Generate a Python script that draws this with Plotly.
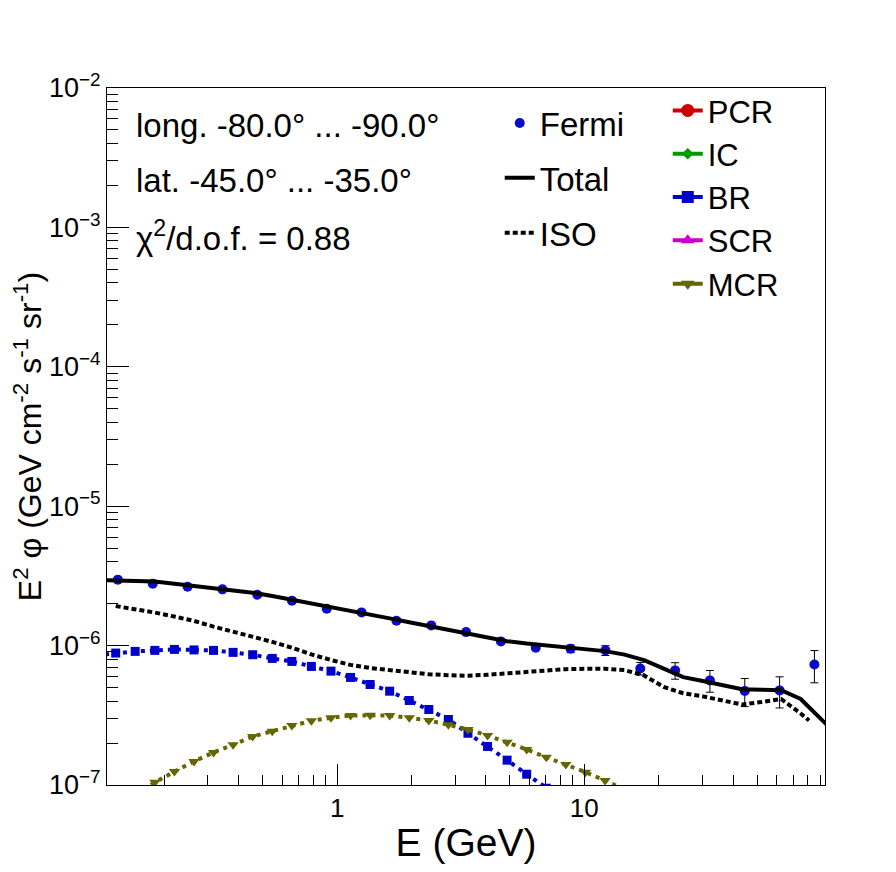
import plotly.graph_objects as go

# ---------------- data ----------------
fermi_E = [0.1297, 0.1795, 0.2483, 0.3436, 0.4753, 0.6568, 0.9078, 1.256, 1.738, 2.404,
           3.325, 4.600, 6.364, 8.806, 12.18, 16.85, 23.31, 32.24, 44.60, 61.70, 85.35]
fermi_flux = [2.972e-6, 2.782e-6, 2.647e-6, 2.532e-6, 2.319e-6, 2.101e-6, 1.840e-6, 1.731e-6,
              1.509e-6, 1.396e-6, 1.250e-6, 1.072e-6, 0.966e-6, 0.950e-6, 0.924e-6, 0.686e-6,
              0.664e-6, 0.563e-6, 0.473e-6, 0.477e-6, 0.731e-6]
fermi_err = [0.030e-6, 0.028e-6, 0.026e-6, 0.025e-6, 0.023e-6, 0.021e-6, 0.019e-6, 0.018e-6,
             0.017e-6, 0.017e-6, 0.017e-6, 0.018e-6, 0.025e-6, 0.060e-6, 0.075e-6, 0.071e-6,
             0.090e-6, 0.100e-6, 0.108e-6, 0.120e-6, 0.190e-6]

model_E = [0.1059, 0.1271, 0.1524, 0.1831, 0.2197, 0.2636, 0.3162, 0.3795, 0.4555, 0.5466,
           0.6559, 0.7870, 0.9446, 1.1335, 1.360, 1.632, 1.959, 2.350, 2.820, 3.384,
           4.061, 4.873, 5.848, 7.018, 8.421, 10.11, 12.13, 14.55, 17.46, 20.96,
           25.15, 30.18, 36.21, 43.45, 52.14, 62.57, 75.09, 90.11, 108.1]

total_flux = [2.962e-6, 2.938e-6, 2.914e-6, 2.880e-6, 2.773e-6, 2.679e-6, 2.600e-6, 2.503e-6,
              2.398e-6, 2.266e-6, 2.136e-6, 2.002e-6, 1.880e-6, 1.772e-6, 1.669e-6, 1.568e-6,
              1.472e-6, 1.385e-6, 1.300e-6, 1.222e-6, 1.141e-6, 1.075e-6, 1.034e-6, 1.002e-6,
              0.975e-6, 0.947e-6, 0.913e-6, 0.862e-6, 0.787e-6, 0.684e-6, 0.594e-6, 0.558e-6,
              0.522e-6, 0.486e-6, 0.482e-6, 0.478e-6, 0.414e-6, 0.304e-6, 0.219e-6]

iso_E = model_E[1:37] + [81.2]
iso_flux = [1.921e-6, 1.828e-6, 1.725e-6, 1.615e-6, 1.504e-6, 1.369e-6, 1.260e-6, 1.168e-6,
            1.063e-6, 0.966e-6, 0.865e-6, 0.788e-6, 0.727e-6, 0.691e-6, 0.664e-6, 0.642e-6,
            0.623e-6, 0.613e-6, 0.608e-6, 0.618e-6, 0.634e-6, 0.650e-6, 0.668e-6, 0.678e-6,
            0.682e-6, 0.682e-6, 0.667e-6, 0.611e-6, 0.505e-6, 0.455e-6, 0.432e-6, 0.401e-6,
            0.378e-6, 0.394e-6, 0.414e-6, 0.326e-6, 0.290e-6]

br_E = model_E[0:25]
br_flux = [0.850e-6, 0.884e-6, 0.909e-6, 0.924e-6, 0.939e-6, 0.931e-6, 0.924e-6, 0.894e-6,
           0.860e-6, 0.809e-6, 0.770e-6, 0.709e-6, 0.656e-6, 0.591e-6, 0.526e-6, 0.471e-6,
           0.404e-6, 0.348e-6, 0.295e-6, 0.235e-6, 0.189e-6, 0.1507e-6, 0.1195e-6, 0.0948e-6,
           0.0761e-6]

mcr_E = model_E[2:28]
mcr_flux = [0.0869e-6, 0.1047e-6, 0.1250e-6, 0.1475e-6, 0.1712e-6, 0.1943e-6, 0.2229e-6,
            0.2433e-6, 0.2674e-6, 0.2889e-6, 0.3036e-6, 0.3154e-6, 0.3160e-6, 0.3150e-6,
            0.3036e-6, 0.2904e-6, 0.2705e-6, 0.2503e-6, 0.2266e-6, 0.2029e-6, 0.1798e-6,
            0.1583e-6, 0.1403e-6, 0.1236e-6, 0.1077e-6, 0.0928e-6]

y_tickvals = [1e-7, 1e-6, 1e-5, 1e-4, 1e-3, 1e-2]
y_ticktext = ["10<sup>−7</sup>", "10<sup>−6</sup>", "10<sup>−5</sup>",
              "10<sup>−4</sup>", "10<sup>−3</sup>", "10<sup>−2</sup>"]
x_tickvals = [1, 10]
x_ticktext = ["1", "10"]

info_lines = ["long. -80.0° ... -90.0°", "lat. -45.0° ... -35.0°", "χ<sup>2</sup>/d.o.f. = 0.88"]
component_names = ["PCR", "IC", "BR", "SCR", "MCR"]
component_colors = ["#cc0000", "#009900", "#0000cc", "#cc00cc", "#666600"]
component_symbols = ["circle", "diamond", "square", "triangle-up", "triangle-down"]
component_sizes = [13, 9, 12, 12, 12]

FONT = "Liberation Sans, Arial, Helvetica, sans-serif"
BLUE = "#0a0acc"
OLIVE = "#666600"

fig = go.Figure()

fig.add_trace(go.Scatter(
    x=fermi_E, y=fermi_flux, mode="markers", name="Fermi", legend="legend", legendgroup="g1",
    marker=dict(symbol="circle", size=10, color=BLUE),
    error_y=dict(type="data", array=fermi_err, color="black", thickness=1, width=4),
))
fig.add_trace(go.Scatter(
    x=model_E, y=total_flux, mode="lines", name="Total", legend="legend", legendgroup="g2",
    line=dict(color="black", width=4),
))
fig.add_trace(go.Scatter(
    x=iso_E, y=iso_flux, mode="lines", name="ISO", legend="legend", legendgroup="g3",
    line=dict(color="black", width=4, dash="5px,3px"),
))
fig.add_trace(go.Scatter(
    x=br_E, y=br_flux, mode="lines+markers", name="BR", showlegend=False,
    line=dict(color="#0000cc", width=4, dash="4px,5px"),
    marker=dict(symbol="square", size=9, color="#0000cc"),
))
fig.add_trace(go.Scatter(
    x=mcr_E, y=mcr_flux, mode="lines+markers", name="MCR", showlegend=False,
    line=dict(color=OLIVE, width=4, dash="4px,5px"),
    marker=dict(symbol="triangle-down", size=10, color=OLIVE),
))

# legend entries for the cosmic-ray components
for name, col, sym, sz in zip(component_names, component_colors, component_symbols, component_sizes):
    fig.add_trace(go.Scatter(
        x=[None], y=[None], mode="lines+markers", name=name, legend="legend2",
        line=dict(color=col, width=4), marker=dict(symbol=sym, size=sz, color=col),
    ))

minor_x = [m * 10 ** d for d in (-1, 0, 1) for m in range(2, 10)]
minor_y = [m * 10.0 ** d for d in range(-7, -2) for m in range(2, 10)]

fig.update_layout(
    width=888, height=864,
    margin=dict(l=99, r=71, t=80, b=87),
    paper_bgcolor="white", plot_bgcolor="white",
    font=dict(family=FONT, color="black"),
    xaxis=dict(
        type="log", range=[-0.931, 1.974],
        tickmode="array", tickvals=x_tickvals, ticktext=x_ticktext,
        ticks="inside", ticklen=21, tickwidth=1, tickcolor="black",
        showline=True, linecolor="black", linewidth=1, mirror=True,
        showgrid=False, zeroline=False,
        tickfont=dict(size=26),
        minor=dict(tickmode="array", tickvals=minor_x, ticks="inside", ticklen=10,
                   tickcolor="black", tickwidth=1, showgrid=False),
        title=dict(text="E (GeV)", font=dict(size=39), standoff=6),
    ),
    yaxis=dict(
        type="log", range=[-7, -2],
        tickmode="array", tickvals=y_tickvals, ticktext=y_ticktext,
        ticks="inside", ticklen=22, tickwidth=1, tickcolor="black",
        showline=True, linecolor="black", linewidth=1, mirror=True,
        showgrid=False, zeroline=False,
        tickfont=dict(size=27),
        minor=dict(tickmode="array", tickvals=minor_y, ticks="inside", ticklen=11,
                   tickcolor="black", tickwidth=1, showgrid=False),
        title=dict(text="E<sup>2</sup> φ (GeV cm<sup>-2</sup> s<sup>-1</sup> sr<sup>-1</sup>)",
                   font=dict(size=32), standoff=4),
    ),
    legend=dict(x=0.547, y=0.99, xanchor="left", yanchor="top",
                font=dict(size=33), bgcolor="rgba(0,0,0,0)", tracegroupgap=9, itemwidth=30),
    legend2=dict(x=0.781, y=1.006, xanchor="left", yanchor="top",
                 font=dict(size=31), bgcolor="rgba(0,0,0,0)", itemwidth=30, tracegroupgap=0),
)

for i, txt in enumerate(info_lines):
    fig.add_annotation(
        x=0.038, y=[0.9469, 0.868, 0.7877][i], xref="paper", yref="paper",
        xanchor="left", yanchor="middle", showarrow=False,
        text=txt, font=dict(size=33, family=FONT),
    )

fig.write_html("out.html")
